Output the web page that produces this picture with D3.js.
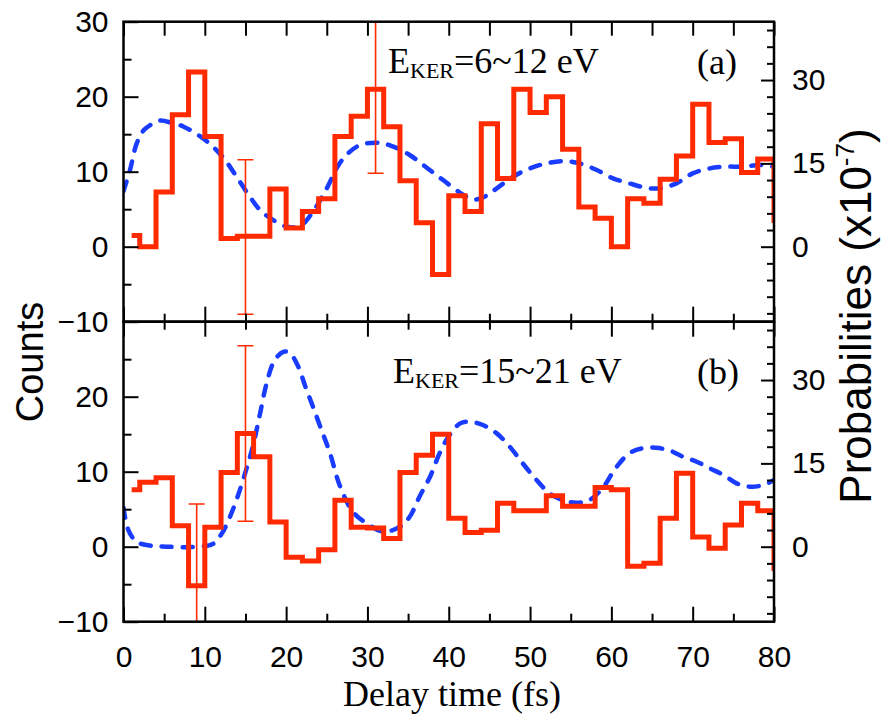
<!DOCTYPE html>
<html>
<head>
<meta charset="utf-8">
<script src="https://cdn.jsdelivr.net/npm/d3@7"></script>
<style>
  body { margin: 0; background: #fff; }
</style>
</head>
<body>
<div class="chart"></div>
<script>
// bin centres (fs), step histogram
var tBin = [1,3,5,7,9,11,13,15,17,19,21,23,25,27,29,31,33,35,37,39,41,
            43,45,47,49,51,53,55,57,59,61,63,65,67,69,71,73,75,77,79,81]
var countsA = [1.5,0,7.3,17.6,23.3,14.7,1.1,1.4,1.4,7.7,2.5,4.7,6.4,14.7,17.4,21.0,16.0,8.8,3.2,-3.7,6.8,
               4.7,16.4,9.1,21.0,17.9,20.0,13.0,5.3,3.8,0,6.4,5.8,9.0,12.1,19.0,13.9,14.4,9.9,11.7,3.5]
var countsB = [7.6,8.6,9.2,2.8,-5.2,2.6,9.9,15.1,12.0,3.3,-1.4,-1.9,-0.4,6.2,2.6,2.5,1.1,9.9,12.2,15.0,3.8,
               1.9,2.2,5.8,4.8,4.8,6.8,5.4,5.4,7.9,7.6,-2.6,-2.2,3.8,9.8,1.3,-0.2,2.9,5.8,4.8,-2.9]

// error bars
var errTimeA = [15, 31]
var errValA = [1.3, 21.0]
var errSizeA = [10.3, 11.2]
var errTimeB = [9, 15]
var errValB = [-5.2, 15.1]
var errSizeB = [10.9, 11.7]

// theory curves (right axis, x1e-7)
var probTimeA = [0,0.8,1.6,2.5,3.3,4.5,5.9,7.4,9.4,11,12.5,13.9,15.4,16.8,18.4,20.1,21.7,23.3,25,26.2,27.4,29.1,
                 31.5,33.2,35.2,37.3,39.3,41.4,43,44.4,45.9,47.9,50,52,54.3,56.1,58.2,60.2,62.2,64.3,65.9,68,70,
                 72.1,74.1,76.2,78.2,80]
var probA = [10,13.8,18.5,21.0,21.9,22.7,22.3,21.6,19.9,18,15.6,12.6,9.3,6.6,4.8,3.6,3.7,6.3,10.5,14.1,16.5,18.3,
             18.7,18.0,16.5,14.2,12,9.7,8.5,9.0,10.5,12.6,14.1,15,15.4,15,13.8,12.3,11.4,10.6,10.5,11.4,13.2,
             14.1,14.4,14.4,14.7,14.4]
var probTimeB = [0,0.6,1.6,3.3,5.3,9.4,11,12.1,13.1,14.1,15.2,16,16.8,17.6,18.6,19.7,20.5,21.5,22.3,23.3,24.2,25.4,
                 26.6,28.2,29.9,32,34,35.2,36.4,37.7,38.9,40.1,41.4,42.6,44.2,45.9,47.5,49.1,50.8,52.4,54,55.7,
                 57.3,58.9,60.5,62.2,63.8,65.5,67.2,68.8,70.5,72.1,73.8,75.4,77,78.7,80]
var probB = [7,3.0,0.9,0.2,0,0,0.5,2.4,5.4,9.3,14.4,18.6,24,29.4,33.6,35.1,34.8,32.4,29.1,25.2,21.6,16.8,
             11.0,6.3,4.2,2.7,3.6,5.4,9,12.6,16.9,20.1,22.2,22.5,21.9,20.4,18,15,12,9.6,8.4,7.9,
             8.4,10.5,14.1,16.8,17.7,17.8,17.3,16.2,15.3,14.1,12.9,11.4,10.8,11.1,12]

var xMajor = [0,10,20,30,40,50,60,70,80]
var xMinor = [5,15,25,35,45,55,65,75]
var xAll = [0,5,10,15,20,25,30,35,40,45,50,55,60,65,70,75,80]
var yMajorA = [-10,0,10,20,30]
var yMajorB = [-10,0,10,20]
var yMinor = [-5,5,15,25]
var pMajor = [0,15,30]
var pMinor = [-12,-9,-6,-3,3,6,9,12,18,21,24,27,33,36,39]

var red = "#ff2a00"
var blue = "#1a3cff"
var sans = "'Liberation Sans', Arial, sans-serif"
var serif = "'Liberation Serif', 'Times New Roman', serif"

var left = 123.5, right = 774
var panels = [
  {top: 21.7, bottom: 321.7, counts: countsA, errT: errTimeA, errV: errValA, errS: errSizeA,
   pt: probTimeA, p: probA, yTicks: yMajorA, label: "(a)", range: "=6~12 eV", ex: 388, ey: 73},
  {top: 321.7, bottom: 621.7, counts: countsB, errT: errTimeB, errV: errValB, errS: errSizeB,
   pt: probTimeB, p: probB, yTicks: yMajorB, label: "(b)", range: "=15~21 eV", ex: 393, ey: 383}
]

var svg = d3.select(".chart")
    .append("svg")
    .attr("width", 885)
    .attr("height", 722)

var x = d3.scaleLinear().domain([0, 80]).range([left, right])

panels.forEach(function(pn, k) {
  var y = d3.scaleLinear().domain([-10, 30]).range([pn.bottom, pn.top])
  var yR = d3.scaleLinear().domain([-13.5, 40.5]).range([pn.bottom, pn.top])

  svg.append("clipPath").attr("id", "clip" + k)
    .append("rect")
    .attr("x", left).attr("y", pn.top)
    .attr("width", right - left).attr("height", pn.bottom - pn.top)

  var g = svg.append("g").attr("clip-path", "url(#clip" + k + ")")

  // theory (dashed)
  var curve = d3.line()
      .x(function(d, i) { return x(pn.pt[i]) })
      .y(function(d) { return yR(d) })
      .curve(d3.curveCatmullRom.alpha(0.5))
  g.append("path")
      .attr("d", curve(pn.p))
      .attr("fill", "none")
      .style("stroke", blue)
      .style("stroke-width", 4.5)
      .style("stroke-dasharray", "10,11")
      .style("stroke-linecap", "round")

  // histogram
  var step = d3.line()
      .x(function(d, i) { return x(tBin[i]) })
      .y(function(d) { return y(d) })
      .curve(d3.curveStep)
  g.append("path")
      .attr("d", step(pn.counts))
      .attr("fill", "none")
      .style("stroke", red)
      .style("stroke-width", 5)
      .style("stroke-linejoin", "miter")

  // error bars
  pn.errT.forEach(function(t, i) {
    var lo = pn.errV[i] - pn.errS[i], hi = pn.errV[i] + pn.errS[i]
    g.append("line")
        .attr("x1", x(t)).attr("x2", x(t))
        .attr("y1", y(lo)).attr("y2", y(hi))
        .style("stroke", red).style("stroke-width", 1.6)
    ;[lo, hi].forEach(function(v) {
      g.append("line")
          .attr("x1", x(t) - 8).attr("x2", x(t) + 8)
          .attr("y1", y(v)).attr("y2", y(v))
          .style("stroke", red).style("stroke-width", 1.6)
    })
  })

  // axes
  var axes = []
  if (k == 0) {
    axes.push(d3.axisTop(x).tickValues(xAll).tickSizeInner(-14).tickFormat(""), [0, pn.top])
    axes.push(d3.axisBottom(x).tickValues(xMajor).tickSizeInner(-15).tickFormat(""), [0, pn.bottom])
    axes.push(d3.axisBottom(x).tickValues(xMinor).tickSizeInner(-8).tickFormat(""), [0, pn.bottom])
  } else {
    axes.push(d3.axisTop(x).tickValues(xMajor).tickSizeInner(-15).tickFormat(""), [0, pn.top])
    axes.push(d3.axisTop(x).tickValues(xMinor).tickSizeInner(-8).tickFormat(""), [0, pn.top])
    axes.push(d3.axisBottom(x).tickValues(xMajor).tickSizeInner(-15).tickPadding(24), [0, pn.bottom])
    axes.push(d3.axisBottom(x).tickValues(xMinor).tickSizeInner(-8).tickFormat(""), [0, pn.bottom])
  }
  axes.push(d3.axisLeft(y).tickValues(pn.yTicks).tickSizeInner(-15).tickPadding(15), [left, 0])
  axes.push(d3.axisLeft(y).tickValues(yMinor).tickSizeInner(-8).tickFormat(""), [left, 0])
  axes.push(d3.axisRight(yR).tickValues(pMajor).tickSizeInner(-13).tickPadding(18), [right, 0])
  axes.push(d3.axisRight(yR).tickValues(pMinor).tickSizeInner(-7).tickFormat(""), [right, 0])

  for (var a = 0; a < axes.length; a += 2) {
    var ax = svg.append("g")
        .attr("transform", "translate(" + axes[a + 1][0] + "," + axes[a + 1][1] + ")")
        .call(axes[a].tickSizeOuter(0))
    ax.select(".domain").remove()
    ax.selectAll("line").style("stroke", "#000").style("stroke-width", 2)
    ax.selectAll("text")
        .style("font-family", sans)
        .style("font-size", "30px")
        .attr("fill", "#000")
  }

  // frame
  svg.append("rect")
      .attr("x", left).attr("y", pn.top)
      .attr("width", right - left).attr("height", pn.bottom - pn.top)
      .attr("fill", "none")
      .style("stroke", "#000")
      .style("stroke-width", 2.5)

  // annotation
  var ann = svg.append("text")
      .attr("x", pn.ex).attr("y", pn.ey)
      .attr("font-family", serif)
      .style("font-size", "36px")
      .attr("fill", "#000")
  ann.append("tspan").text("E")
  ann.append("tspan").attr("dy", 5).style("font-size", "22px").text("KER")
  ann.append("tspan").attr("dy", -5).text(pn.range)

  svg.append("text")
      .attr("x", 697).attr("y", pn.ey + 1)
      .attr("font-family", serif)
      .style("font-size", "36px")
      .attr("fill", "#000")
      .text(pn.label)
})

// axis titles
svg.append("text")
    .attr("transform", "translate(43,362) rotate(-90)")
    .attr("text-anchor", "middle")
    .attr("font-family", sans)
    .style("font-size", "38px")
    .attr("fill", "#000")
    .text("Counts")

var pt = svg.append("text")
    .attr("transform", "translate(871,316) rotate(-90)")
    .attr("text-anchor", "middle")
    .attr("font-family", sans)
    .style("font-size", "44px")
    .attr("fill", "#000")
pt.append("tspan").text("Probabilities (x10")
pt.append("tspan").attr("dy", -17).style("font-size", "26px").text("-7")
pt.append("tspan").attr("dy", 17).text(")")

svg.append("text")
    .attr("x", 452).attr("y", 706)
    .attr("text-anchor", "middle")
    .attr("font-family", serif)
    .style("font-size", "36px")
    .attr("fill", "#000")
    .text("Delay time (fs)")
</script>
</body>
</html>
